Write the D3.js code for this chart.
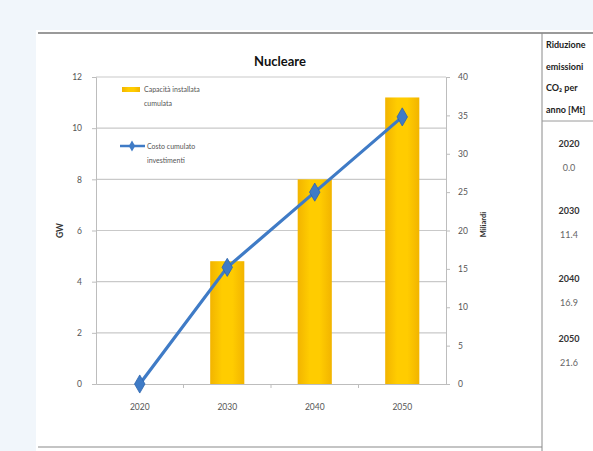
<!DOCTYPE html>
<html>
<head>
<meta charset="utf-8">
<script src="https://cdn.jsdelivr.net/npm/d3@7/dist/d3.min.js"></script>
<style>
  html, body { margin: 0; padding: 0; background: #ffffff; }
  svg { display: block; font-family: Lato, "Open Sans", sans-serif; }
</style>
</head>
<body>
<svg id="chart" width="593" height="451"></svg>
<script>
// Anni di riferimento
const years = ["2020", "2030", "2040", "2050"];
// Capacità installata cumulata (GW) – asse sinistro
const capacity = [0, 4.8, 8.0, 11.2];
// Costo cumulato investimenti (miliardi) – asse destro
const cost = [0, 15.2, 25.0, 34.8];
// Tacche degli assi
const leftTicks = [0, 2, 4, 6, 8, 10, 12];
const rightTicks = [0, 5, 10, 15, 20, 25, 30, 35, 40];
// Tabella laterale: riduzione emissioni CO2 per anno [Mt]
const tableHeader = ["Riduzione", "emissioni", "CO\u2082 per", "anno [Mt]"];
const tableYears = ["2020", "2030", "2040", "2050"];
const tableValues = ["0.0", "11.4", "16.9", "21.6"];

const svg = d3.select("#chart");

// fondo azzurrino ai margini
svg.append("rect").attr("x", 0).attr("y", 0).attr("width", 593).attr("height", 451).attr("fill", "#f1f6fb");
svg.append("rect").attr("x", 36).attr("y", 30).attr("width", 557).attr("height", 421).attr("fill", "#ffffff");

// righe di cornice
svg.append("line").attr("x1", 38).attr("x2", 593).attr("y1", 33).attr("y2", 33)
  .attr("stroke", "#9a9a9a").attr("stroke-width", 2);
svg.append("line").attr("x1", 38).attr("x2", 542).attr("y1", 447).attr("y2", 447)
  .attr("stroke", "#c4c4c4").attr("stroke-width", 2);
svg.append("line").attr("x1", 542).attr("x2", 542).attr("y1", 33).attr("y2", 451)
  .attr("stroke", "#8a8a8a").attr("stroke-width", 1);
svg.append("line").attr("x1", 542).attr("x2", 593).attr("y1", 121).attr("y2", 121)
  .attr("stroke", "#9a9a9a").attr("stroke-width", 1);

// tabella laterale
const tbl = svg.append("g").attr("font-size", 9).attr("fill", "#222");
tableHeader.forEach((t, i) => {
  tbl.append("text").attr("x", 546).attr("y", 48 + i * 21.5)
    .attr("font-weight", "bold").attr("fill", "#222").text(t);
});
const tYearY = [147, 214, 282, 342];
tableYears.forEach((t, i) => {
  tbl.append("text").attr("x", 569).attr("y", tYearY[i]).attr("text-anchor", "middle")
    .attr("font-weight", "bold").attr("fill", "#333").text(t);
  tbl.append("text").attr("x", 569).attr("y", tYearY[i] + 24).attr("text-anchor", "middle")
    .attr("fill", "#666").text(tableValues[i]);
});

// area del grafico
const L = 96, R = 446, T = 77, B = 384;

const x = d3.scaleBand().domain(years).range([L, R]).paddingInner(0.61).paddingOuter(0.305);
const xc = d3.scalePoint().domain(years).range([L, R]).padding(0.5);
const yL = d3.scaleLinear().domain([0, 12]).range([B, T]);
const yR = d3.scaleLinear().domain([0, 40]).range([B, T]);

// titolo
svg.append("text").attr("x", 280).attr("y", 66).attr("text-anchor", "middle")
  .attr("font-weight", "bold").attr("font-size", 13).attr("fill", "#111").text("Nucleare");

// griglia orizzontale
svg.append("g").selectAll("line").data(leftTicks.filter(d => d > 0)).join("line")
  .attr("x1", L).attr("x2", R).attr("y1", d => yL(d)).attr("y2", d => yL(d))
  .attr("stroke", "#c9c9c9").attr("stroke-width", 1.2);

// asse sinistro
const axL = svg.append("g").attr("transform", `translate(${L},0)`)
  .call(d3.axisLeft(yL).tickValues(leftTicks).tickSize(4).tickPadding(10).tickFormat(d3.format("d")));
axL.select(".domain").attr("stroke", "#bdbdbd");
axL.selectAll(".tick line").attr("stroke", "#bdbdbd");
axL.selectAll("text").attr("font-size", 8.5).attr("fill", "#555").attr("font-family", "Lato, sans-serif");

// asse destro
const axR = svg.append("g").attr("transform", `translate(${R},0)`)
  .call(d3.axisRight(yR).tickValues(rightTicks).tickSize(4).tickPadding(8).tickFormat(d3.format("d")));
axR.select(".domain").attr("stroke", "#bdbdbd");
axR.selectAll(".tick line").attr("stroke", "#bdbdbd");
axR.selectAll("text").attr("font-size", 8.5).attr("fill", "#555").attr("font-family", "Lato, sans-serif");

// asse orizzontale
const axB = svg.append("g").attr("transform", `translate(0,${B})`)
  .call(d3.axisBottom(x).tickSize(0).tickPadding(20));
axB.select(".domain").attr("stroke", "#bdbdbd");
axB.selectAll("text").attr("font-size", 8.5).attr("fill", "#555").attr("font-family", "Lato, sans-serif");
// tacche tra le categorie
svg.append("g").selectAll("line").data(d3.range(1, years.length)).join("line")
  .attr("x1", i => L + i * (R - L) / years.length).attr("x2", i => L + i * (R - L) / years.length)
  .attr("y1", B).attr("y2", B + 4).attr("stroke", "#bdbdbd");

// titoli degli assi
svg.append("text").attr("transform", `translate(63,${(T + B) / 2}) rotate(-90)`)
  .attr("text-anchor", "middle").attr("font-size", 8.5).attr("font-weight", "bold").attr("fill", "#333").text("GW");
svg.append("text").attr("transform", `translate(486,${(T + B) / 2 - 6}) rotate(-90)`)
  .attr("text-anchor", "middle").attr("font-size", 7.5).attr("font-weight", "bold").attr("fill", "#333").text("Miliardi");

// barre con sfumatura dorata
const defs = svg.append("defs");
const grad = defs.append("linearGradient").attr("id", "gold").attr("x1", "0").attr("x2", "1").attr("y1", "0").attr("y2", "0");
grad.append("stop").attr("offset", "0%").attr("stop-color", "#f2b400");
grad.append("stop").attr("offset", "35%").attr("stop-color", "#ffcc00");
grad.append("stop").attr("offset", "65%").attr("stop-color", "#ffcc00");
grad.append("stop").attr("offset", "100%").attr("stop-color", "#f2b400");

svg.append("g").selectAll("rect").data(years.map((y, i) => ({ y, v: capacity[i] }))).join("rect")
  .attr("x", d => x(d.y)).attr("width", x.bandwidth())
  .attr("y", d => yL(d.v)).attr("height", d => yL(0) - yL(d.v))
  .attr("fill", "url(#gold)");

// linea del costo cumulato
const pts = years.map((y, i) => ({ y, v: cost[i] }));
svg.append("path").datum(pts)
  .attr("d", d3.line().x(d => xc(d.y)).y(d => yR(d.v)))
  .attr("fill", "none").attr("stroke", "#3f7bc6").attr("stroke-width", 3.2);
svg.append("g").selectAll("path").data(pts).join("path")
  .attr("transform", d => `translate(${xc(d.y)},${yR(d.v)})`)
  .attr("d", d3.symbol(d3.symbolDiamond, 95))
  .attr("fill", "#3f7bc6").attr("stroke", "#2d64ad").attr("stroke-width", 0.8);

// legenda
const lg = svg.append("g").attr("font-size", 7).attr("fill", "#555");
lg.append("rect").attr("x", 122).attr("y", 87).attr("width", 18).attr("height", 5).attr("fill", "url(#gold)");
lg.append("text").attr("x", 144).attr("y", 92).text("Capacità installata");
lg.append("text").attr("x", 144).attr("y", 106).text("cumulata");
lg.append("line").attr("x1", 120).attr("x2", 145).attr("y1", 146).attr("y2", 146)
  .attr("stroke", "#3f7bc6").attr("stroke-width", 2.5);
lg.append("path").attr("transform", "translate(132,146)").attr("d", d3.symbol(d3.symbolDiamond, 35))
  .attr("fill", "#3f7bc6");
lg.append("text").attr("x", 147).attr("y", 149).text("Costo cumulato");
lg.append("text").attr("x", 147).attr("y", 163).text("investimenti");
</script>
</body>
</html>
